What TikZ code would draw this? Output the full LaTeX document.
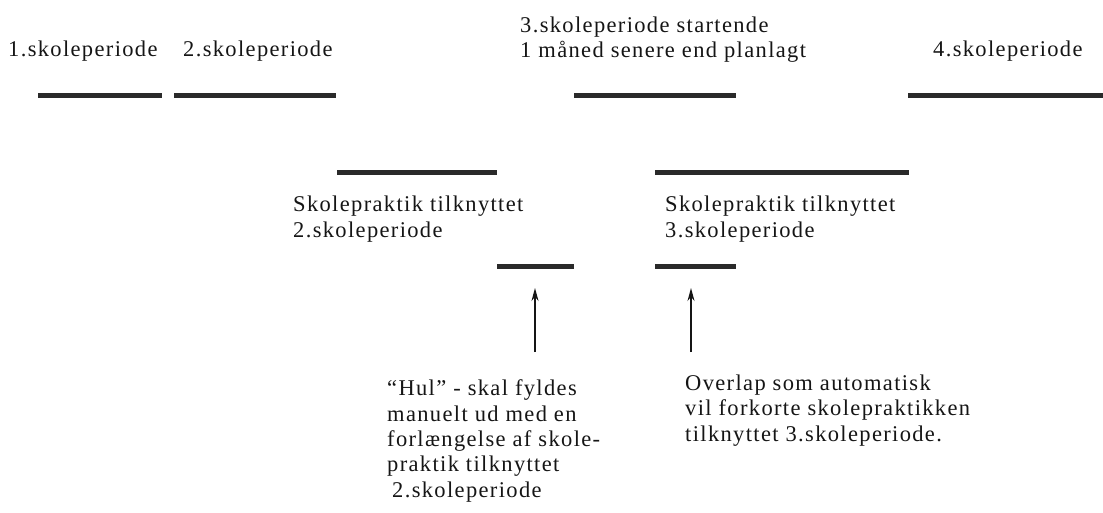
\documentclass[tikz,border=0pt]{standalone}
\usepackage{fontspec}
\setmainfont{Liberation Serif}[LetterSpace=6]
\usetikzlibrary{arrows.meta}
\definecolor{barcol}{HTML}{2A2A2A}
\definecolor{txtcol}{HTML}{151515}
\tikzset{
  period/.style={draw=barcol, line width=4.5pt, line cap=butt},
  lbl/.style={anchor=base west, inner sep=0pt, align=left, text=txtcol,
              font=\fontsize{22.5}{25.3}\selectfont},
  pointer/.style={draw=txtcol, line width=1.3pt,
                  -{Stealth[length=13pt,width=7pt]}}
}
\begin{document}
\begin{tikzpicture}[x=1pt,y=-1pt]
\useasboundingbox (0,0) rectangle (1103,513);
% labels (anchor = baseline of the last line)
\node[lbl] (t1) at (8,57) {1.skoleperiode};
\node[lbl] (t2) at (183,57) {2.skoleperiode};
\node[lbl] (t3) at (520,58) {3.skoleperiode startende\\1 måned senere end planlagt};
\node[lbl] (t4) at (933,57) {4.skoleperiode};
\node[lbl] (s2) at (293,237) {Skolepraktik tilknyttet\\2.skoleperiode};
\node[lbl] (s3) at (665,237) {Skolepraktik tilknyttet\\3.skoleperiode};
\node[lbl] (hul) at (387,497) {“Hul” - skal fyldes\\manuelt ud med en\\forlængelse af skole-\\praktik tilknyttet\\\hspace*{5pt}2.skoleperiode};
\node[lbl] (ovl) at (685,441) {Overlap som automatisk\\vil forkorte skolepraktikken\\tilknyttet 3.skoleperiode.};
% period bars
\coordinate (p1a) at (38,95.5);  \coordinate (p1b) at (162,95.5);
\coordinate (p2a) at (174,95.5); \coordinate (p2b) at (336,95.5);
\coordinate (p3a) at (574,95.5); \coordinate (p3b) at (736,95.5);
\coordinate (p4a) at (908,95.5); \coordinate (p4b) at (1103,95.5);
\coordinate (q2a) at (337,172.5); \coordinate (q2b) at (497,172.5);
\coordinate (q3a) at (655,172.5); \coordinate (q3b) at (909,172.5);
\coordinate (g1a) at (497,266.5); \coordinate (g1b) at (574,266.5);
\coordinate (g2a) at (655,266.5); \coordinate (g2b) at (736,266.5);
\draw[period] (p1a) -- (p1b);
\draw[period] (p2a) -- (p2b);
\draw[period] (p3a) -- (p3b);
\draw[period] (p4a) -- (p4b);
\draw[period] (q2a) -- (q2b);
\draw[period] (q3a) -- (q3b);
\draw[period] (g1a) -- (g1b);
\draw[period] (g2a) -- (g2b);
% pointers
\coordinate (a1s) at (535,352); \coordinate (a1e) at (535,288);
\coordinate (a2s) at (691,352); \coordinate (a2e) at (691,288);
\draw[pointer] (a1s) -- (a1e);
\draw[pointer] (a2s) -- (a2e);
\end{tikzpicture}
\end{document}
